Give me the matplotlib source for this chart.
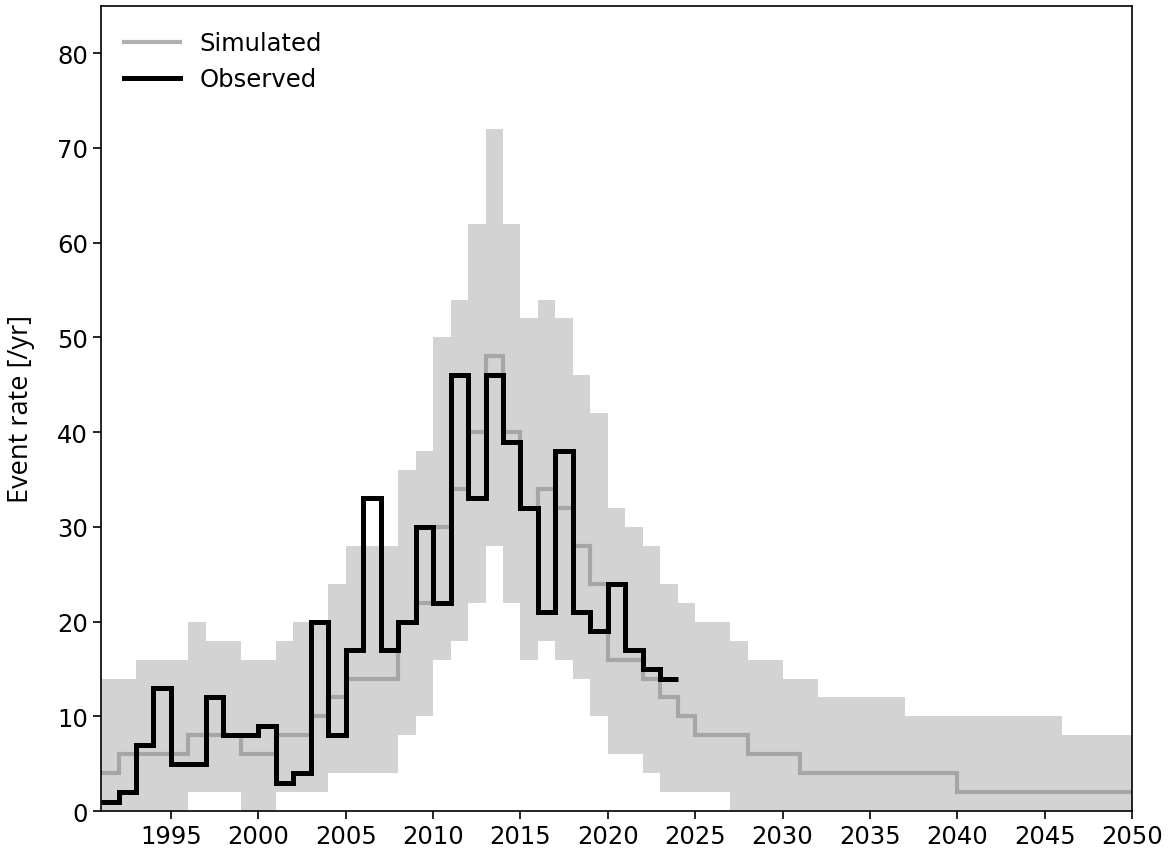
import numpy as np
import matplotlib.pyplot as plt

# yearly bins, simulated 1991-2049, observed 1991-2023
sim_years = np.arange(1991, 2051)
sim_med = [4, 6, 6, 6, 6, 8, 8, 8, 6, 6,
           8, 8, 10, 12, 14, 14, 14, 20, 22, 30,
           34, 40, 48, 40, 32, 34, 32, 28, 24, 16,
           16, 14, 12, 10, 8, 8, 8, 6, 6, 6,
           4, 4, 4, 4, 4, 4, 4, 4, 4, 2,
           2, 2, 2, 2, 2, 2, 2, 2, 2]
sim_lo = [0, 0, 0, 0, 0, 2, 2, 2, 0, 0,
          2, 2, 2, 4, 4, 4, 4, 8, 10, 16,
          18, 22, 28, 22, 16, 18, 16, 14, 10, 6,
          6, 4, 2, 2, 2, 2, 0, 0, 0, 0,
          0, 0, 0, 0, 0, 0, 0, 0, 0, 0,
          0, 0, 0, 0, 0, 0, 0, 0, 0]
sim_hi = [14, 14, 16, 16, 16, 20, 18, 18, 16, 16,
          18, 20, 20, 24, 28, 28, 28, 36, 38, 50,
          54, 62, 72, 62, 52, 54, 52, 46, 42, 32,
          30, 28, 24, 22, 20, 20, 18, 16, 16, 14,
          14, 12, 12, 12, 12, 12, 10, 10, 10, 10,
          10, 10, 10, 10, 10, 8, 8, 8, 8]

obs_years = np.arange(1991, 2025)
obs = [1, 2, 7, 13, 5, 5, 12, 8, 8, 9,
       3, 4, 20, 8, 17, 33, 17, 20, 30, 22,
       46, 33, 46, 39, 32, 21, 38, 21, 19, 24,
       17, 15, 14]

fig, ax = plt.subplots(figsize=(11.72, 8.54), dpi=100)
fig.subplots_adjust(left=0.0862, right=0.966, bottom=0.049, top=0.992)

ax.stairs(sim_hi, sim_years, baseline=sim_lo, fill=True, color='#d3d3d3', lw=0)
ax.stairs(sim_med, sim_years, baseline=None, color='#a6a6a6', lw=3, label='Simulated')
ax.stairs(obs, obs_years, baseline=None, color='black', lw=3.6, label='Observed')

ax.set_xlim(1991, 2050)
ax.set_ylim(0, 85)
ax.set_xticks(np.arange(1995, 2051, 5))
ax.set_yticks(np.arange(0, 81, 10))
ax.tick_params(labelsize=17.5, length=6, width=1.2)
for s in ax.spines.values():
    s.set_linewidth(1.2)
ax.set_ylabel('Event rate [/yr]', fontsize=19.5, family=['Open Sans', 'DejaVu Sans'])
ax.yaxis.set_label_coords(-0.064, 0.5)

h1 = plt.Line2D([], [], color='#b0b0b0', lw=3)
h2 = plt.Line2D([], [], color='black', lw=3.6)
ax.legend([h1, h2], ['Simulated', 'Observed'], loc='upper left', frameon=False,
          fontsize=17.5, handlelength=2.3, borderaxespad=0.55, labelspacing=0.5,
          bbox_to_anchor=(0.0, 0.997))

fig.savefig('out.png', dpi=100)
